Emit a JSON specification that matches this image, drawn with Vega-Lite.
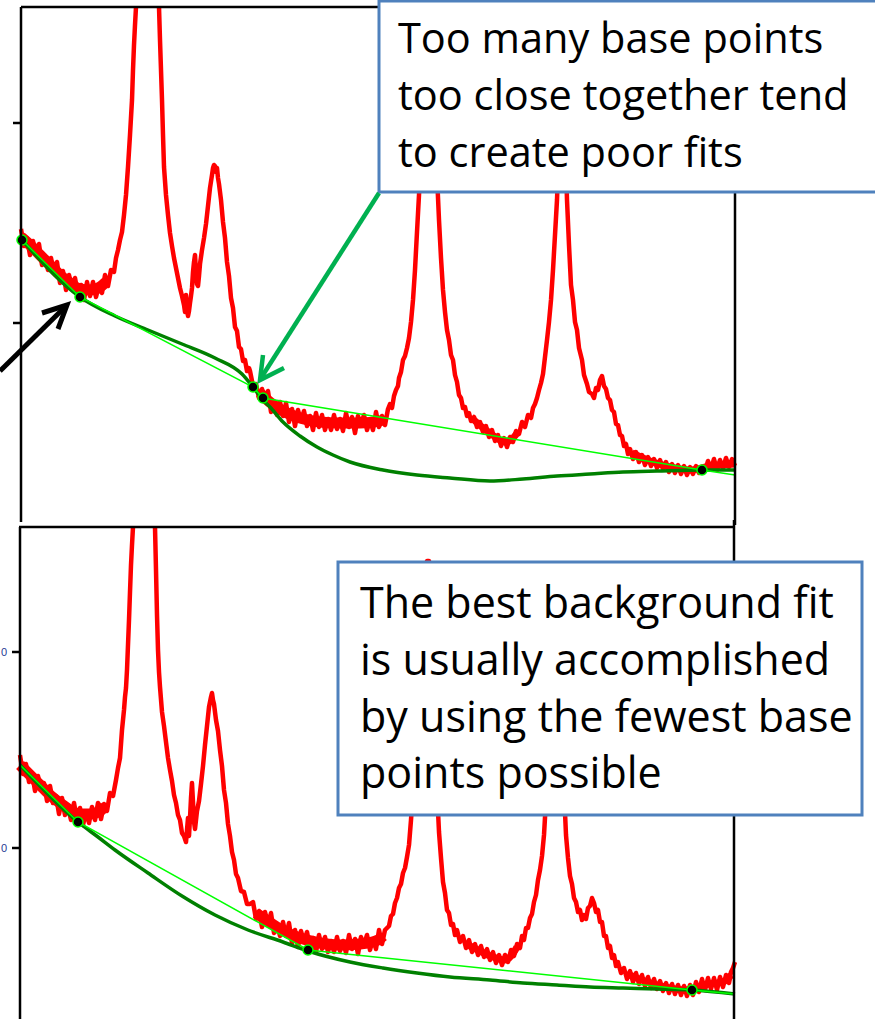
{
"$schema":"https://vega.github.io/schema/vega-lite/v6.json",
"width":875,"height":1019,
"autosize":{"type":"fit","contains":"padding"},
"padding":0,
"background":"white",
"config":{"view":{"stroke":null}},
"datasets":{
"band":[
{"g":"a","x":21,"y":237},{"g":"a","x":30,"y":245},{"g":"a","x":40,"y":255},{"g":"a","x":50,"y":265},{"g":"a","x":60,"y":275},{"g":"a","x":70,"y":283},{"g":"a","x":80,"y":289},{"g":"a","x":90,"y":290},{"g":"a","x":100,"y":287},{"g":"a","x":106,"y":282},
{"g":"b","x":260,"y":393},{"g":"b","x":265,"y":398},{"g":"b","x":275,"y":406},{"g":"b","x":285,"y":412},{"g":"b","x":300,"y":418},{"g":"b","x":320,"y":422},{"g":"b","x":340,"y":423},{"g":"b","x":360,"y":423},{"g":"b","x":380,"y":421},{"g":"b","x":384,"y":419},
{"g":"e","x":20,"y":765},{"g":"e","x":30,"y":775},{"g":"e","x":40,"y":785},{"g":"e","x":50,"y":795},{"g":"e","x":60,"y":803},{"g":"e","x":70,"y":810},{"g":"e","x":80,"y":814},{"g":"e","x":90,"y":814},{"g":"e","x":100,"y":811},{"g":"e","x":105,"y":806},
{"g":"f","x":256,"y":913},{"g":"f","x":265,"y":919},{"g":"f","x":280,"y":929},{"g":"f","x":300,"y":938},{"g":"f","x":320,"y":943},{"g":"f","x":340,"y":945},{"g":"f","x":360,"y":944},{"g":"f","x":378,"y":940},{"g":"f","x":383,"y":936}
],
"band2":[
{"g":"c","x":474,"y":420},{"g":"c","x":482,"y":427},{"g":"c","x":490,"y":433},{"g":"c","x":505,"y":442},{"g":"c","x":512,"y":439},{"g":"c","x":518,"y":432},
{"g":"d","x":632,"y":453},{"g":"d","x":650,"y":461},{"g":"d","x":670,"y":467},{"g":"d","x":690,"y":470},{"g":"d","x":710,"y":466},{"g":"d","x":735,"y":464},
{"g":"h","x":468,"y":945},{"g":"h","x":478,"y":950},{"g":"h","x":490,"y":956},{"g":"h","x":505,"y":960},{"g":"h","x":512,"y":955},{"g":"h","x":517,"y":947},
{"g":"i","x":627,"y":974},{"g":"i","x":645,"y":981},{"g":"i","x":665,"y":987},{"g":"i","x":685,"y":990},{"g":"i","x":705,"y":985},{"g":"i","x":725,"y":981},{"g":"i","x":731,"y":975}
],
"spec":[
{"g":"t1","x":21,"y":229},{"g":"t1","x":24,"y":246},{"g":"t1","x":27,"y":238},{"g":"t1","x":30,"y":255},{"g":"t1","x":33,"y":241},{"g":"t1","x":36,"y":254},{"g":"t1","x":39,"y":244},{"g":"t1","x":42,"y":265},{"g":"t1","x":45,"y":257},{"g":"t1","x":48,"y":270},{"g":"t1","x":51,"y":258},{"g":"t1","x":54,"y":273},{"g":"t1","x":57,"y":262},{"g":"t1","x":60,"y":283},{"g":"t1","x":63,"y":271},{"g":"t1","x":66,"y":290},{"g":"t1","x":69,"y":275},{"g":"t1","x":72,"y":287},{"g":"t1","x":75,"y":278},{"g":"t1","x":78,"y":295},{"g":"t1","x":81,"y":285},{"g":"t1","x":84,"y":300},{"g":"t1","x":87,"y":282},{"g":"t1","x":90,"y":296},{"g":"t1","x":93,"y":282},{"g":"t1","x":96,"y":297},{"g":"t1","x":99,"y":285},{"g":"t1","x":102,"y":293},{"g":"t1","x":105,"y":275},{"g":"t1","x":108,"y":286},{"g":"t1","x":111,"y":270},{"g":"t1","x":114,"y":272},{"g":"t1","x":116,"y":258},{"g":"t1","x":118,"y":250},{"g":"t1","x":120,"y":240},{"g":"t1","x":122,"y":232},{"g":"t1","x":124,"y":215},{"g":"t1","x":126,"y":195},{"g":"t1","x":128,"y":167},{"g":"t1","x":130,"y":135},{"g":"t1","x":132,"y":100},{"g":"t1","x":133,"y":70},{"g":"t1","x":134,"y":45},{"g":"t1","x":135,"y":25},{"g":"t1","x":136,"y":7},
{"g":"t2","x":159,"y":7},{"g":"t2","x":160,"y":40},{"g":"t2","x":161,"y":70},{"g":"t2","x":162,"y":100},{"g":"t2","x":163,"y":135},{"g":"t2","x":164,"y":167},{"g":"t2","x":166,"y":195},{"g":"t2","x":168,"y":215},{"g":"t2","x":170,"y":233},{"g":"t2","x":172,"y":246},{"g":"t2","x":174,"y":258},{"g":"t2","x":176,"y":268},{"g":"t2","x":178,"y":278},{"g":"t2","x":180,"y":288},{"g":"t2","x":182,"y":296},{"g":"t2","x":184,"y":305},{"g":"t2","x":185,"y":312},{"g":"t2","x":186,"y":295},{"g":"t2","x":187,"y":310},{"g":"t2","x":188,"y":316},{"g":"t2","x":189,"y":311},{"g":"t2","x":190,"y":303},{"g":"t2","x":191,"y":296},{"g":"t2","x":192,"y":288},{"g":"t2","x":193,"y":272},{"g":"t2","x":194,"y":262},{"g":"t2","x":195,"y":255},{"g":"t2","x":196,"y":272},{"g":"t2","x":197,"y":284},{"g":"t2","x":198,"y":286},{"g":"t2","x":199,"y":276},{"g":"t2","x":200,"y":264},{"g":"t2","x":202,"y":250},{"g":"t2","x":204,"y":238},{"g":"t2","x":206,"y":224},{"g":"t2","x":208,"y":206},{"g":"t2","x":210,"y":188},{"g":"t2","x":212,"y":175},{"g":"t2","x":213,"y":168},{"g":"t2","x":214,"y":165},{"g":"t2","x":215,"y":166},{"g":"t2","x":216,"y":172},{"g":"t2","x":217,"y":168},{"g":"t2","x":218,"y":178},{"g":"t2","x":219,"y":184},{"g":"t2","x":221,"y":200},{"g":"t2","x":223,"y":222},{"g":"t2","x":225,"y":238},{"g":"t2","x":227,"y":262},{"g":"t2","x":229,"y":276},{"g":"t2","x":231,"y":298},{"g":"t2","x":233,"y":308},{"g":"t2","x":235,"y":327},{"g":"t2","x":237,"y":331},{"g":"t2","x":239,"y":347},{"g":"t2","x":241,"y":349},{"g":"t2","x":243,"y":361},{"g":"t2","x":245,"y":360},{"g":"t2","x":247,"y":371},{"g":"t2","x":249,"y":368},
{"g":"t2","x":250,"y":371},{"g":"t2","x":253,"y":386},{"g":"t2","x":256,"y":384},{"g":"t2","x":259,"y":398},{"g":"t2","x":262,"y":389},{"g":"t2","x":265,"y":401},{"g":"t2","x":268,"y":391},{"g":"t2","x":271,"y":412},{"g":"t2","x":274,"y":403},{"g":"t2","x":277,"y":415},{"g":"t2","x":280,"y":402},{"g":"t2","x":283,"y":416},{"g":"t2","x":286,"y":403},{"g":"t2","x":289,"y":422},{"g":"t2","x":292,"y":409},{"g":"t2","x":295,"y":426},{"g":"t2","x":298,"y":410},{"g":"t2","x":301,"y":421},{"g":"t2","x":304,"y":411},{"g":"t2","x":307,"y":426},{"g":"t2","x":310,"y":416},{"g":"t2","x":313,"y":430},{"g":"t2","x":316,"y":413},{"g":"t2","x":319,"y":427},{"g":"t2","x":322,"y":415},{"g":"t2","x":325,"y":430},{"g":"t2","x":328,"y":419},{"g":"t2","x":331,"y":430},{"g":"t2","x":334,"y":415},{"g":"t2","x":337,"y":429},{"g":"t2","x":340,"y":419},{"g":"t2","x":343,"y":431},{"g":"t2","x":346,"y":413},{"g":"t2","x":349,"y":427},{"g":"t2","x":352,"y":417},{"g":"t2","x":355,"y":433},{"g":"t2","x":358,"y":416},{"g":"t2","x":361,"y":424},{"g":"t2","x":364,"y":415},{"g":"t2","x":367,"y":430},{"g":"t2","x":370,"y":420},{"g":"t2","x":373,"y":430},{"g":"t2","x":376,"y":412},{"g":"t2","x":379,"y":427},{"g":"t2","x":382,"y":416},{"g":"t2","x":385,"y":425},{"g":"t2","x":388,"y":409},
{"g":"t2","x":390,"y":404},{"g":"t2","x":392,"y":408},{"g":"t2","x":394,"y":396},{"g":"t2","x":396,"y":390},{"g":"t2","x":398,"y":386},{"g":"t2","x":399,"y":378},{"g":"t2","x":401,"y":372},{"g":"t2","x":402,"y":366},{"g":"t2","x":403,"y":360},{"g":"t2","x":405,"y":356},{"g":"t2","x":407,"y":348},{"g":"t2","x":409,"y":338},{"g":"t2","x":411,"y":322},{"g":"t2","x":413,"y":300},{"g":"t2","x":415,"y":270},{"g":"t2","x":417,"y":232},{"g":"t2","x":419,"y":195},{"g":"t2","x":421,"y":150},{"g":"t2","x":423,"y":110},{"g":"t2","x":426,"y":70},{"g":"t2","x":429,"y":55},{"g":"t2","x":432,"y":70},{"g":"t2","x":435,"y":120},{"g":"t2","x":437,"y":175},{"g":"t2","x":439,"y":220},{"g":"t2","x":441,"y":258},{"g":"t2","x":443,"y":290},{"g":"t2","x":445,"y":312},{"g":"t2","x":447,"y":330},{"g":"t2","x":449,"y":340},{"g":"t2","x":451,"y":355},{"g":"t2","x":453,"y":360},{"g":"t2","x":455,"y":375},{"g":"t2","x":457,"y":382},{"g":"t2","x":459,"y":395},{"g":"t2","x":461,"y":398},{"g":"t2","x":463,"y":408},{"g":"t2","x":465,"y":407},{"g":"t2","x":467,"y":416},{"g":"t2","x":469,"y":413},{"g":"t2","x":471,"y":421},{"g":"t2","x":474,"y":417},{"g":"t2","x":477,"y":427},{"g":"t2","x":480,"y":422},{"g":"t2","x":483,"y":432},{"g":"t2","x":486,"y":426},{"g":"t2","x":489,"y":437},{"g":"t2","x":492,"y":430},{"g":"t2","x":495,"y":441},{"g":"t2","x":498,"y":435},{"g":"t2","x":501,"y":446},{"g":"t2","x":504,"y":438},{"g":"t2","x":507,"y":447},{"g":"t2","x":510,"y":437},{"g":"t2","x":513,"y":442},{"g":"t2","x":516,"y":431},{"g":"t2","x":519,"y":434},{"g":"t2","x":522,"y":422},{"g":"t2","x":525,"y":427},{"g":"t2","x":528,"y":415},{"g":"t2","x":531,"y":418},{"g":"t2","x":533,"y":408},{"g":"t2","x":535,"y":404},{"g":"t2","x":537,"y":398},{"g":"t2","x":539,"y":390},{"g":"t2","x":541,"y":383},{"g":"t2","x":543,"y":374},{"g":"t2","x":545,"y":357},{"g":"t2","x":547,"y":340},{"g":"t2","x":549,"y":322},{"g":"t2","x":551,"y":300},{"g":"t2","x":553,"y":270},{"g":"t2","x":555,"y":235},{"g":"t2","x":557,"y":200},{"g":"t2","x":559,"y":140},{"g":"t2","x":561,"y":80},{"g":"t2","x":563,"y":75},{"g":"t2","x":565,"y":130},{"g":"t2","x":567,"y":200},{"g":"t2","x":569,"y":245},{"g":"t2","x":571,"y":285},{"g":"t2","x":573,"y":300},{"g":"t2","x":575,"y":322},{"g":"t2","x":577,"y":330},{"g":"t2","x":579,"y":348},{"g":"t2","x":582,"y":360},{"g":"t2","x":584,"y":375},{"g":"t2","x":587,"y":384},{"g":"t2","x":589,"y":392},{"g":"t2","x":592,"y":394},{"g":"t2","x":594,"y":398},{"g":"t2","x":596,"y":388},{"g":"t2","x":598,"y":390},{"g":"t2","x":600,"y":380},{"g":"t2","x":602,"y":376},{"g":"t2","x":604,"y":386},{"g":"t2","x":606,"y":389},{"g":"t2","x":608,"y":398},{"g":"t2","x":610,"y":400},{"g":"t2","x":612,"y":410},{"g":"t2","x":614,"y":412},{"g":"t2","x":616,"y":424},{"g":"t2","x":618,"y":425},{"g":"t2","x":620,"y":435},{"g":"t2","x":622,"y":436},{"g":"t2","x":624,"y":446},{"g":"t2","x":626,"y":444},{"g":"t2","x":628,"y":454},{"g":"t2","x":630,"y":449},{"g":"t2","x":633,"y":459},{"g":"t2","x":636,"y":452},{"g":"t2","x":639,"y":462},{"g":"t2","x":642,"y":455},{"g":"t2","x":645,"y":465},{"g":"t2","x":648,"y":457},{"g":"t2","x":651,"y":466},{"g":"t2","x":654,"y":459},{"g":"t2","x":657,"y":468},{"g":"t2","x":660,"y":460},{"g":"t2","x":663,"y":469},{"g":"t2","x":666,"y":462},{"g":"t2","x":669,"y":472},{"g":"t2","x":672,"y":464},{"g":"t2","x":675,"y":473},{"g":"t2","x":678,"y":465},{"g":"t2","x":681,"y":474},{"g":"t2","x":684,"y":466},{"g":"t2","x":687,"y":475},{"g":"t2","x":690,"y":467},{"g":"t2","x":693,"y":474},{"g":"t2","x":696,"y":466},{"g":"t2","x":699,"y":473},{"g":"t2","x":702,"y":467},{"g":"t2","x":705,"y":471},{"g":"t2","x":708,"y":461},{"g":"t2","x":711,"y":469},{"g":"t2","x":714,"y":459},{"g":"t2","x":717,"y":470},{"g":"t2","x":720,"y":460},{"g":"t2","x":723,"y":468},{"g":"t2","x":726,"y":458},{"g":"t2","x":729,"y":467},{"g":"t2","x":732,"y":459},{"g":"t2","x":735,"y":466},
{"g":"b1","x":20,"y":755},{"g":"b1","x":23,"y":774},{"g":"b1","x":26,"y":764},{"g":"b1","x":29,"y":782},{"g":"b1","x":32,"y":773},{"g":"b1","x":35,"y":791},{"g":"b1","x":38,"y":776},{"g":"b1","x":41,"y":790},{"g":"b1","x":44,"y":783},{"g":"b1","x":47,"y":801},{"g":"b1","x":50,"y":786},{"g":"b1","x":53,"y":803},{"g":"b1","x":56,"y":796},{"g":"b1","x":59,"y":814},{"g":"b1","x":62,"y":798},{"g":"b1","x":65,"y":815},{"g":"b1","x":68,"y":807},{"g":"b1","x":71,"y":820},{"g":"b1","x":74,"y":803},{"g":"b1","x":77,"y":820},{"g":"b1","x":80,"y":808},{"g":"b1","x":83,"y":825},{"g":"b1","x":86,"y":812},{"g":"b1","x":89,"y":823},{"g":"b1","x":92,"y":807},{"g":"b1","x":95,"y":820},{"g":"b1","x":98,"y":803},{"g":"b1","x":101,"y":819},{"g":"b1","x":104,"y":804},{"g":"b1","x":107,"y":811},{"g":"b1","x":110,"y":793},{"g":"b1","x":113,"y":796},{"g":"b1","x":116,"y":780},{"g":"b1","x":118,"y":768},{"g":"b1","x":120,"y":758},{"g":"b1","x":122,"y":730},{"g":"b1","x":124,"y":710},{"g":"b1","x":125,"y":697},{"g":"b1","x":126,"y":688},{"g":"b1","x":127,"y":670},{"g":"b1","x":128,"y":645},{"g":"b1","x":129,"y":620},{"g":"b1","x":130,"y":592},{"g":"b1","x":131,"y":565},{"g":"b1","x":132,"y":545},{"g":"b1","x":133,"y":527},
{"g":"b2","x":155,"y":527},{"g":"b2","x":156,"y":570},{"g":"b2","x":157,"y":615},{"g":"b2","x":158,"y":650},{"g":"b2","x":159,"y":672},{"g":"b2","x":160,"y":687},{"g":"b2","x":162,"y":712},{"g":"b2","x":164,"y":726},{"g":"b2","x":166,"y":742},{"g":"b2","x":168,"y":758},{"g":"b2","x":170,"y":770},{"g":"b2","x":172,"y":781},{"g":"b2","x":174,"y":795},{"g":"b2","x":176,"y":803},{"g":"b2","x":178,"y":815},{"g":"b2","x":180,"y":820},{"g":"b2","x":182,"y":833},{"g":"b2","x":184,"y":836},{"g":"b2","x":186,"y":842},{"g":"b2","x":187,"y":830},{"g":"b2","x":188,"y":818},{"g":"b2","x":189,"y":836},{"g":"b2","x":190,"y":818},{"g":"b2","x":191,"y":798},{"g":"b2","x":192,"y":783},{"g":"b2","x":193,"y":802},{"g":"b2","x":194,"y":822},{"g":"b2","x":195,"y":829},{"g":"b2","x":197,"y":811},{"g":"b2","x":199,"y":801},{"g":"b2","x":201,"y":784},{"g":"b2","x":203,"y":766},{"g":"b2","x":205,"y":745},{"g":"b2","x":207,"y":726},{"g":"b2","x":209,"y":707},{"g":"b2","x":211,"y":697},{"g":"b2","x":212,"y":693},{"g":"b2","x":213,"y":700},{"g":"b2","x":214,"y":704},{"g":"b2","x":216,"y":720},{"g":"b2","x":218,"y":731},{"g":"b2","x":220,"y":750},{"g":"b2","x":222,"y":766},{"g":"b2","x":224,"y":790},{"g":"b2","x":226,"y":803},{"g":"b2","x":228,"y":824},{"g":"b2","x":230,"y":836},{"g":"b2","x":232,"y":852},{"g":"b2","x":234,"y":860},{"g":"b2","x":236,"y":874},{"g":"b2","x":238,"y":878},{"g":"b2","x":241,"y":891},{"g":"b2","x":244,"y":892},{"g":"b2","x":247,"y":904},{"g":"b2","x":250,"y":904},
{"g":"b2","x":253,"y":902},{"g":"b2","x":256,"y":919},{"g":"b2","x":259,"y":911},{"g":"b2","x":262,"y":927},{"g":"b2","x":265,"y":912},{"g":"b2","x":268,"y":924},{"g":"b2","x":271,"y":913},{"g":"b2","x":274,"y":933},{"g":"b2","x":277,"y":924},{"g":"b2","x":280,"y":936},{"g":"b2","x":283,"y":922},{"g":"b2","x":286,"y":936},{"g":"b2","x":289,"y":923},{"g":"b2","x":292,"y":943},{"g":"b2","x":295,"y":930},{"g":"b2","x":298,"y":947},{"g":"b2","x":301,"y":931},{"g":"b2","x":304,"y":942},{"g":"b2","x":307,"y":932},{"g":"b2","x":310,"y":948},{"g":"b2","x":313,"y":938},{"g":"b2","x":316,"y":952},{"g":"b2","x":319,"y":935},{"g":"b2","x":322,"y":949},{"g":"b2","x":325,"y":937},{"g":"b2","x":328,"y":952},{"g":"b2","x":331,"y":941},{"g":"b2","x":334,"y":952},{"g":"b2","x":337,"y":937},{"g":"b2","x":340,"y":951},{"g":"b2","x":343,"y":941},{"g":"b2","x":346,"y":953},{"g":"b2","x":349,"y":935},{"g":"b2","x":352,"y":949},{"g":"b2","x":355,"y":939},{"g":"b2","x":358,"y":954},{"g":"b2","x":361,"y":937},{"g":"b2","x":364,"y":945},{"g":"b2","x":367,"y":935},{"g":"b2","x":370,"y":950},{"g":"b2","x":373,"y":939},{"g":"b2","x":376,"y":949},{"g":"b2","x":379,"y":930},{"g":"b2","x":382,"y":944},{"g":"b2","x":385,"y":930},
{"g":"b2","x":387,"y":928},{"g":"b2","x":389,"y":926},{"g":"b2","x":391,"y":916},{"g":"b2","x":393,"y":914},{"g":"b2","x":395,"y":903},{"g":"b2","x":397,"y":898},{"g":"b2","x":399,"y":888},{"g":"b2","x":401,"y":884},{"g":"b2","x":403,"y":873},{"g":"b2","x":405,"y":868},{"g":"b2","x":407,"y":857},{"g":"b2","x":409,"y":845},{"g":"b2","x":411,"y":820},{"g":"b2","x":413,"y":790},{"g":"b2","x":415,"y":740},{"g":"b2","x":418,"y":680},{"g":"b2","x":421,"y":615},{"g":"b2","x":424,"y":572},{"g":"b2","x":427,"y":561},{"g":"b2","x":429,"y":561},{"g":"b2","x":431,"y":578},{"g":"b2","x":433,"y":640},{"g":"b2","x":435,"y":720},{"g":"b2","x":437,"y":790},{"g":"b2","x":439,"y":832},{"g":"b2","x":441,"y":858},{"g":"b2","x":443,"y":882},{"g":"b2","x":445,"y":893},{"g":"b2","x":447,"y":910},{"g":"b2","x":449,"y":913},{"g":"b2","x":451,"y":925},{"g":"b2","x":453,"y":924},{"g":"b2","x":455,"y":935},{"g":"b2","x":457,"y":930},{"g":"b2","x":460,"y":942},{"g":"b2","x":463,"y":936},{"g":"b2","x":466,"y":948},{"g":"b2","x":469,"y":940},{"g":"b2","x":472,"y":952},{"g":"b2","x":475,"y":944},{"g":"b2","x":478,"y":955},{"g":"b2","x":481,"y":946},{"g":"b2","x":484,"y":957},{"g":"b2","x":487,"y":949},{"g":"b2","x":490,"y":960},{"g":"b2","x":493,"y":952},{"g":"b2","x":496,"y":963},{"g":"b2","x":499,"y":955},{"g":"b2","x":502,"y":965},{"g":"b2","x":505,"y":955},{"g":"b2","x":508,"y":962},{"g":"b2","x":511,"y":950},{"g":"b2","x":514,"y":956},{"g":"b2","x":517,"y":944},{"g":"b2","x":520,"y":948},{"g":"b2","x":522,"y":936},{"g":"b2","x":524,"y":940},{"g":"b2","x":526,"y":928},{"g":"b2","x":528,"y":928},{"g":"b2","x":530,"y":918},{"g":"b2","x":532,"y":914},{"g":"b2","x":534,"y":902},{"g":"b2","x":536,"y":895},{"g":"b2","x":538,"y":880},{"g":"b2","x":540,"y":870},{"g":"b2","x":542,"y":856},{"g":"b2","x":544,"y":835},{"g":"b2","x":546,"y":800},{"g":"b2","x":548,"y":745},{"g":"b2","x":550,"y":680},{"g":"b2","x":552,"y":620},{"g":"b2","x":554,"y":585},{"g":"b2","x":556,"y":578},{"g":"b2","x":558,"y":590},{"g":"b2","x":560,"y":650},{"g":"b2","x":562,"y":730},{"g":"b2","x":564,"y":790},{"g":"b2","x":566,"y":835},{"g":"b2","x":568,"y":858},{"g":"b2","x":570,"y":876},{"g":"b2","x":572,"y":884},{"g":"b2","x":574,"y":898},{"g":"b2","x":576,"y":902},{"g":"b2","x":578,"y":912},{"g":"b2","x":580,"y":910},{"g":"b2","x":582,"y":920},{"g":"b2","x":584,"y":915},{"g":"b2","x":586,"y":919},{"g":"b2","x":588,"y":908},{"g":"b2","x":590,"y":906},{"g":"b2","x":592,"y":898},{"g":"b2","x":594,"y":903},{"g":"b2","x":596,"y":912},{"g":"b2","x":598,"y":910},{"g":"b2","x":600,"y":922},{"g":"b2","x":602,"y":922},{"g":"b2","x":604,"y":936},{"g":"b2","x":606,"y":936},{"g":"b2","x":608,"y":948},{"g":"b2","x":610,"y":946},{"g":"b2","x":612,"y":958},{"g":"b2","x":614,"y":955},{"g":"b2","x":616,"y":966},{"g":"b2","x":618,"y":962},{"g":"b2","x":621,"y":973},{"g":"b2","x":624,"y":968},{"g":"b2","x":627,"y":979},{"g":"b2","x":630,"y":971},{"g":"b2","x":633,"y":982},{"g":"b2","x":636,"y":973},{"g":"b2","x":639,"y":984},{"g":"b2","x":642,"y":975},{"g":"b2","x":645,"y":986},{"g":"b2","x":648,"y":977},{"g":"b2","x":651,"y":988},{"g":"b2","x":654,"y":979},{"g":"b2","x":657,"y":989},{"g":"b2","x":660,"y":981},{"g":"b2","x":663,"y":991},{"g":"b2","x":666,"y":983},{"g":"b2","x":669,"y":993},{"g":"b2","x":672,"y":984},{"g":"b2","x":675,"y":994},{"g":"b2","x":678,"y":985},{"g":"b2","x":681,"y":995},{"g":"b2","x":684,"y":986},{"g":"b2","x":687,"y":996},{"g":"b2","x":690,"y":985},{"g":"b2","x":693,"y":995},{"g":"b2","x":696,"y":982},{"g":"b2","x":699,"y":992},{"g":"b2","x":702,"y":979},{"g":"b2","x":705,"y":990},{"g":"b2","x":708,"y":978},{"g":"b2","x":711,"y":989},{"g":"b2","x":714,"y":978},{"g":"b2","x":717,"y":990},{"g":"b2","x":720,"y":977},{"g":"b2","x":723,"y":987},{"g":"b2","x":726,"y":975},{"g":"b2","x":729,"y":983},{"g":"b2","x":731,"y":972},{"g":"b2","x":733,"y":968},{"g":"b2","x":735,"y":962}
],
"fit":[
{"g":"t","x":22,"y":240},{"g":"t","x":80,"y":297},{"g":"t","x":115,"y":316},{"g":"t","x":148,"y":330},{"g":"t","x":182,"y":344},{"g":"t","x":215,"y":358},{"g":"t","x":242,"y":374},{"g":"t","x":253,"y":387},{"g":"t","x":263,"y":400},{"g":"t","x":270,"y":407},{"g":"t","x":283,"y":422},{"g":"t","x":300,"y":436},{"g":"t","x":317,"y":447},{"g":"t","x":333,"y":455},{"g":"t","x":350,"y":462},{"g":"t","x":383,"y":470},{"g":"t","x":417,"y":475},{"g":"t","x":450,"y":478},{"g":"t","x":490,"y":481},{"g":"t","x":523,"y":479},{"g":"t","x":557,"y":476},{"g":"t","x":590,"y":474},{"g":"t","x":623,"y":472},{"g":"t","x":657,"y":471},{"g":"t","x":702,"y":470},{"g":"t","x":735,"y":470},
{"g":"b","x":20,"y":765},{"g":"b","x":78,"y":822},{"g":"b","x":98,"y":837},{"g":"b","x":115,"y":850},{"g":"b","x":148,"y":873},{"g":"b","x":182,"y":896},{"g":"b","x":215,"y":915},{"g":"b","x":248,"y":930},{"g":"b","x":283,"y":942},{"g":"b","x":308,"y":951},{"g":"b","x":350,"y":962},{"g":"b","x":383,"y":968},{"g":"b","x":417,"y":973},{"g":"b","x":450,"y":977},{"g":"b","x":490,"y":980},{"g":"b","x":523,"y":983},{"g":"b","x":557,"y":985},{"g":"b","x":590,"y":987},{"g":"b","x":623,"y":988},{"g":"b","x":657,"y":989},{"g":"b","x":692,"y":990},{"g":"b","x":735,"y":994}
],
"lime":[
{"g":"t","x":22,"y":240},{"g":"t","x":80,"y":297},{"g":"t","x":253,"y":387},{"g":"t","x":263,"y":398},{"g":"t","x":702,"y":470},{"g":"t","x":735,"y":475},
{"g":"b","x":20,"y":765},{"g":"b","x":78,"y":822},{"g":"b","x":308,"y":950},{"g":"b","x":692,"y":990},{"g":"b","x":735,"y":994}
],
"pts":[
{"x":22,"y":240},{"x":80,"y":297},{"x":253,"y":387},{"x":263,"y":398},{"x":702,"y":470},
{"x":78,"y":822},{"x":308,"y":950},{"x":692,"y":990}
],
"frame":[
{"s":"a","o":1,"x":21,"y":7},{"s":"a","o":2,"x":380,"y":7},
{"s":"b","o":1,"x":21,"y":7},{"s":"b","o":2,"x":21,"y":522},
{"s":"c","o":1,"x":735,"y":190},{"s":"c","o":2,"x":735,"y":525},
{"s":"d","o":1,"x":13,"y":123},{"s":"d","o":2,"x":21,"y":123},
{"s":"e","o":1,"x":13,"y":323},{"s":"e","o":2,"x":21,"y":323},
{"s":"f","o":1,"x":19,"y":527},{"s":"f","o":2,"x":734,"y":527},
{"s":"g","o":1,"x":20,"y":527},{"s":"g","o":2,"x":20,"y":1022},
{"s":"h","o":1,"x":734,"y":520},{"s":"h","o":2,"x":734,"y":1022},
{"s":"i","o":1,"x":12,"y":652},{"s":"i","o":2,"x":20,"y":652},
{"s":"j","o":1,"x":12,"y":848},{"s":"j","o":2,"x":20,"y":848}
],
"boxes":[
{"x":379,"x2":885,"y":1,"y2":192},
{"x":338,"x2":862,"y":562,"y2":815}
],
"txt":[
{"t":"Too many base points","x":398,"y":53,"fs":41.5},
{"t":"too close together tend","x":398,"y":110,"fs":41.5},
{"t":"to create poor fits","x":398,"y":167,"fs":41.5},
{"t":"The best background fit","x":360,"y":618,"fs":43},
{"t":"is usually accomplished","x":360,"y":675,"fs":43},
{"t":"by using the fewest base","x":360,"y":732,"fs":43},
{"t":"points possible","x":360,"y":788,"fs":43}
],
"ticklab":[
{"t":"0","x":1,"y":656},{"t":"0","x":1,"y":852}
],
"garrow":[
{"s":"a","o":1,"x":379,"y":193},{"s":"a","o":2,"x":261,"y":378},
{"s":"b","o":1,"x":263,"y":355},{"s":"b","o":2,"x":260,"y":380},{"s":"b","o":3,"x":284,"y":368}
],
"karrow":[
{"s":"a","o":1,"x":0,"y":371},{"s":"a","o":2,"x":66,"y":306},
{"s":"b","o":1,"x":42,"y":313},{"s":"b","o":2,"x":67,"y":305},{"s":"b","o":3,"x":58,"y":329}
]
},
"layer":[
{"data":{"name":"band"},"mark":{"type":"line","color":"#FF0000","strokeWidth":11,"strokeCap":"butt","interpolate":"monotone","clip":true},
 "encoding":{"x":{"field":"x","type":"quantitative","scale":{"domain":[0,875],"nice":false,"zero":false},"axis":null},
  "y":{"field":"y","type":"quantitative","scale":{"domain":[0,1019],"nice":false,"zero":false,"reverse":true},"axis":null},
  "detail":{"field":"g"}}},
{"data":{"name":"band2"},"mark":{"type":"line","color":"#FF0000","strokeWidth":7,"strokeCap":"butt","interpolate":"monotone","clip":true},
 "encoding":{"x":{"field":"x","type":"quantitative"},"y":{"field":"y","type":"quantitative"},"detail":{"field":"g"}}},
{"data":{"name":"spec"},"mark":{"type":"line","color":"#FF0000","strokeWidth":4.5,"strokeJoin":"round","clip":true},
 "encoding":{"x":{"field":"x","type":"quantitative"},"y":{"field":"y","type":"quantitative"},"detail":{"field":"g"}}},
{"data":{"name":"fit"},"mark":{"type":"line","color":"#008000","strokeWidth":3.5,"interpolate":"monotone","clip":true},
 "encoding":{"x":{"field":"x","type":"quantitative"},"y":{"field":"y","type":"quantitative"},"detail":{"field":"g"}}},
{"data":{"name":"lime"},"mark":{"type":"line","color":"#00FF00","strokeWidth":1.5,"clip":true},
 "encoding":{"x":{"field":"x","type":"quantitative"},"y":{"field":"y","type":"quantitative"},"detail":{"field":"g"}}},
{"data":{"name":"pts"},"mark":{"type":"point","filled":true,"fill":"#000000","stroke":"#00FF00","strokeWidth":1.5,"size":100,"opacity":1,"clip":true},
 "encoding":{"x":{"field":"x","type":"quantitative"},"y":{"field":"y","type":"quantitative"}}},
{"data":{"name":"frame"},"mark":{"type":"line","color":"#000000","strokeWidth":2.5,"clip":true},
 "encoding":{"x":{"field":"x","type":"quantitative"},"y":{"field":"y","type":"quantitative"},"detail":{"field":"s"},"order":{"field":"o"}}},
{"data":{"name":"ticklab"},"mark":{"type":"text","align":"left","baseline":"alphabetic","fontSize":11,"font":"Liberation Sans","color":"#1F3A93","clip":true},
 "encoding":{"x":{"field":"x","type":"quantitative"},"y":{"field":"y","type":"quantitative"},"text":{"field":"t"}}},
{"data":{"name":"boxes"},"mark":{"type":"rect","fill":"#FFFFFF","stroke":"#4F81BD","strokeWidth":3,"clip":true},
 "encoding":{"x":{"field":"x","type":"quantitative"},"x2":{"field":"x2"},"y":{"field":"y","type":"quantitative"},"y2":{"field":"y2"}}},
{"data":{"name":"txt"},"mark":{"type":"text","align":"left","baseline":"alphabetic","font":"Open Sans","color":"#000000","clip":true},
 "encoding":{"x":{"field":"x","type":"quantitative"},"y":{"field":"y","type":"quantitative"},"text":{"field":"t"},"size":{"field":"fs","type":"quantitative","scale":null}}},
{"data":{"name":"garrow"},"mark":{"type":"line","color":"#00B050","strokeWidth":4.5,"strokeJoin":"miter","clip":true},
 "encoding":{"x":{"field":"x","type":"quantitative"},"y":{"field":"y","type":"quantitative"},"detail":{"field":"s"},"order":{"field":"o"}}},
{"data":{"name":"karrow"},"mark":{"type":"line","color":"#000000","strokeWidth":5,"strokeJoin":"miter","clip":true},
 "encoding":{"x":{"field":"x","type":"quantitative"},"y":{"field":"y","type":"quantitative"},"detail":{"field":"s"},"order":{"field":"o"}}}
]
}
